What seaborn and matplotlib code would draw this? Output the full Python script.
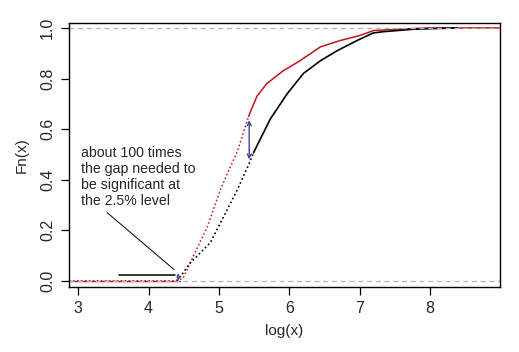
import matplotlib
matplotlib.use("Agg")
import matplotlib.pyplot as plt
import seaborn as sns

# ECDF readings from the picture (log(x), Fn(x))
black_x = [4.40, 4.45, 4.59, 4.875, 5.06, 5.26, 5.44, 5.49, 5.73, 5.97, 6.20, 6.44, 6.68, 6.96, 7.19, 7.33, 7.76, 8.38]
black_F = [0.0, 0.016, 0.07, 0.15, 0.25, 0.36, 0.47, 0.506, 0.64, 0.74, 0.82, 0.87, 0.91, 0.95, 0.98, 0.985, 0.995, 1.0]
red_x = [2.87, 4.40, 4.49, 4.63, 4.83, 5.02, 5.16, 5.26, 5.42, 5.54, 5.68, 5.91, 6.15, 6.44, 6.72, 7.00, 7.20, 7.96, 9.0]
red_F = [0.0, 0.0, 0.01, 0.095, 0.21, 0.36, 0.45, 0.51, 0.65, 0.73, 0.78, 0.83, 0.87, 0.925, 0.95, 0.97, 0.99, 1.0, 1.0]
black_split = 8   # steep part looks dotted
red_split = 9

note = "about 100 times\nthe gap needed to\nbe significant at\nthe 2.5% level"
gap_x, gap_lo, gap_hi = 5.43, 0.48, 0.635
small_x, small_lo, small_hi = 4.42, 0.0, 0.03

sns.set_style("ticks")
plt.rcParams["font.family"] = ["Liberation Sans", "DejaVu Sans"]

fig = plt.figure(figsize=(5.19, 3.52), dpi=100)
ax = fig.add_axes([0.133, 0.185, 0.830, 0.750])

red = "#c0141e"
dots = (0, (1, 1.6))
sns.lineplot(x=red_x[:red_split], y=red_F[:red_split], color=red, lw=1.1, linestyle=dots, sort=False, estimator=None, ax=ax)
sns.lineplot(x=red_x[red_split - 1:], y=red_F[red_split - 1:], color=red, lw=1.1, sort=False, estimator=None, ax=ax)
sns.lineplot(x=black_x[:black_split], y=black_F[:black_split], color="black", lw=1.2, linestyle=dots, sort=False, estimator=None, ax=ax)
sns.lineplot(x=black_x[black_split - 1:], y=black_F[black_split - 1:], color="black", lw=1.2, sort=False, estimator=None, ax=ax)
ax.plot([2.87, 4.45], [0, 0], color=red, lw=1.0)

for yv in (0, 1):
    ax.axhline(yv, color="#b3b3b3", lw=0.9, ls=(0, (4, 3)))

ax.annotate("", xy=(gap_x, gap_lo), xytext=(gap_x, gap_hi),
            arrowprops=dict(arrowstyle="<->", color="#40409a", lw=1.0, mutation_scale=7, shrinkA=0, shrinkB=0))
ax.annotate("", xy=(small_x, small_lo), xytext=(small_x, small_hi),
            arrowprops=dict(arrowstyle="<->", color="#40409a", lw=0.8, mutation_scale=4, shrinkA=0, shrinkB=0))
ax.plot([3.58, 4.38], [0.024, 0.024], color="black", lw=1.1)
ax.plot([3.41, 4.36], [0.27, 0.045], color="black", lw=0.7)
ax.text(3.04, 0.535, note, fontsize=10.2, va="top", ha="left", linespacing=1.2)

ax.set_xlim(2.87, 8.99)
ax.set_ylim(-0.024, 1.02)
ax.set_xticks([3, 4, 5, 6, 7, 8])
ax.set_yticks([0.0, 0.2, 0.4, 0.6, 0.8, 1.0])
ax.set_yticklabels(["0.0", "0.2", "0.4", "0.6", "0.8", "1.0"], rotation=90, va="center")
ax.tick_params(labelsize=11.5, length=6, width=0.9, color="black", pad=4)
ax.set_xlabel("log(x)", fontsize=11, labelpad=6)
ax.set_ylabel("Fn(x)", fontsize=11, labelpad=8)
for s in ax.spines.values():
    s.set_color("black")
    s.set_linewidth(1.0)

fig.savefig("out.png", dpi=100)
